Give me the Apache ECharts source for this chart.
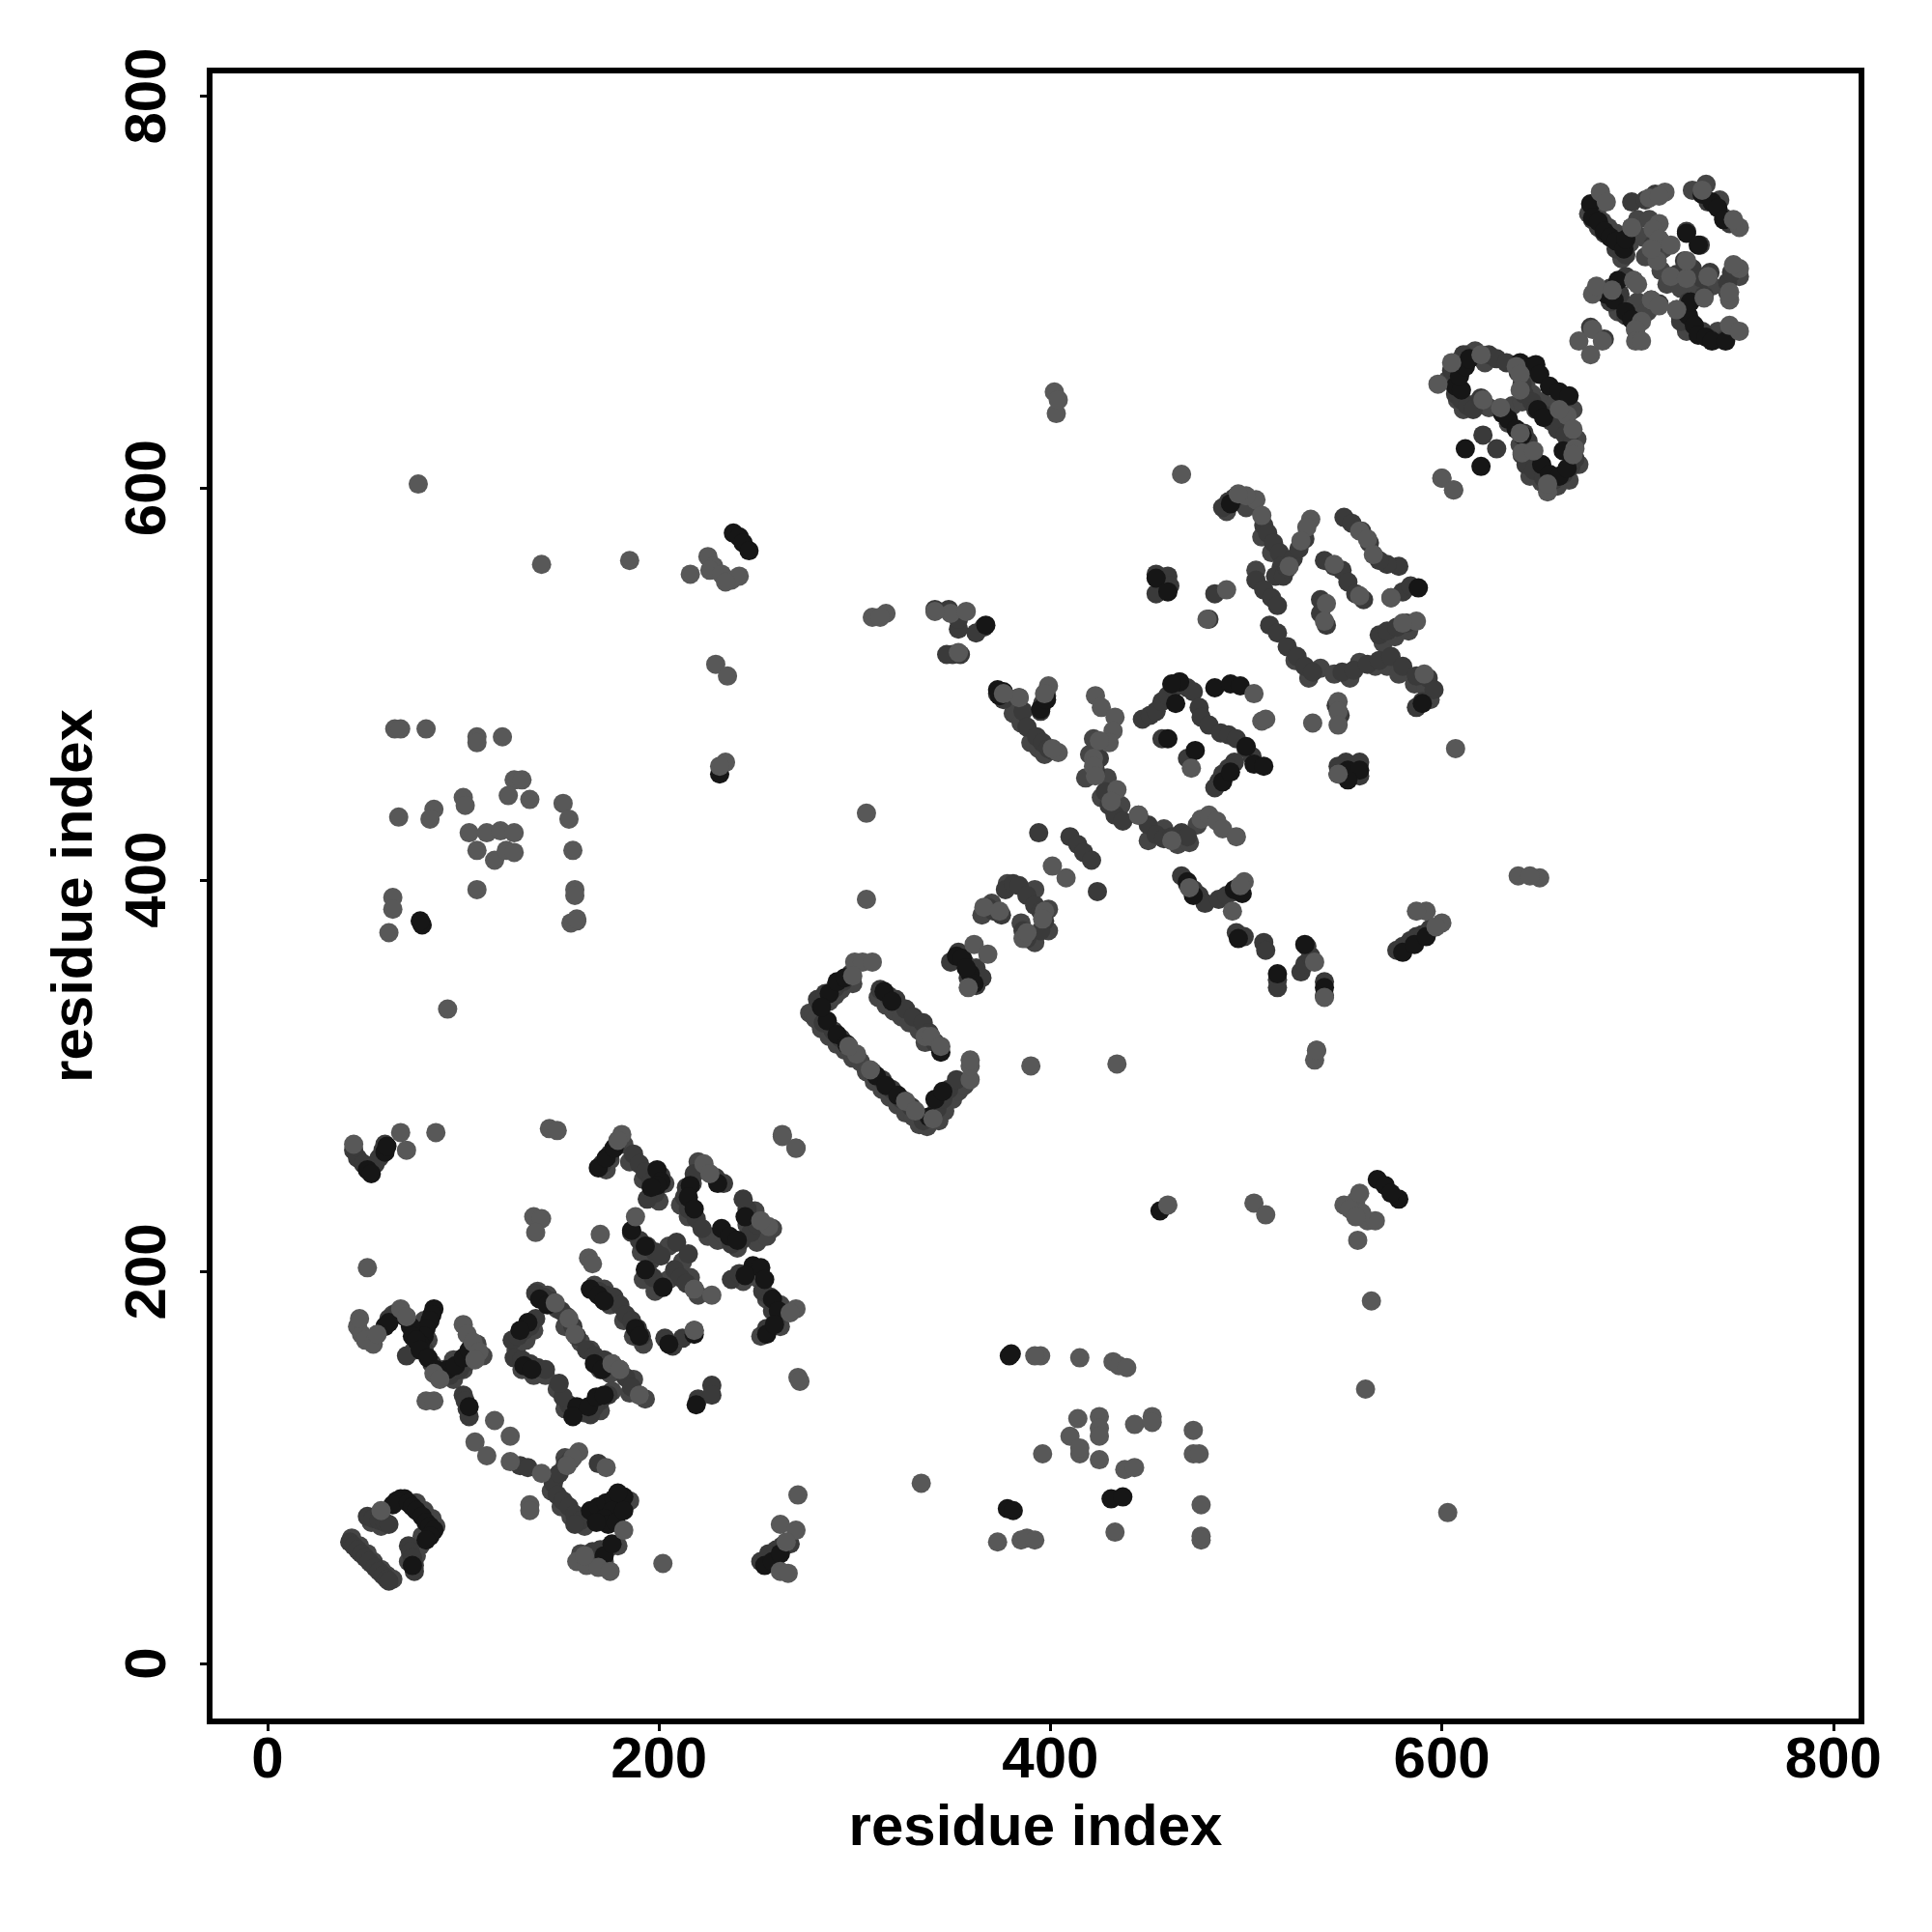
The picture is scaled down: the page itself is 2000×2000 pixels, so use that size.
<!DOCTYPE html>
<html><head><meta charset="utf-8">
<style>html,body{margin:0;padding:0;background:#fff}#c{width:2000px;height:2000px}</style>
<script src="https://cdn.jsdelivr.net/npm/echarts@6/dist/echarts.min.js"></script>
</head><body><div id="c"></div>
<script>
const tickValues=[0,200,400,600,800];
const axisTitle="residue index";
const backPoints=[[43,64],[47,60],[51,56],[54,52],[58,48],[61,45],[64,43],[47,57],[53,51],[53,72],[58,70],[72,52],[76,55],[78,60],[79,65],[86,70],[84,74],[80,78],[76,82],
[277,332],[279,331],[281,335],[284,338],[287,338],[290,341],[293,344],[296,347],[299,347],[280,329],[283,324],[287,320],[291,316],[295,313],[299,309],[303,307],[306,302],[310,297],[314,293],[318,289],[322,285],[326,281],[330,279],[333,275],[337,274],[343,277],[346,282],[350,288],[353,292],[356,295],[312,340],[316,336],[320,333],[324,330],[328,327],[333,323],[336,317],
[64,178],[80,175],[76,172],[82,165],[75,160],[90,150],[95,145],[100,150],[104,157],[107,163],[110,157],[106,160],[95,155],
[127,160],[132,165],[136,170],[130,150],[136,147],[142,147],[138,190],[143,188],[148,181],[152,172],[160,164],[165,160],[170,150],[175,148],[185,138],[187,145],[193,135],[162,128],[170,129],[176,139],[152,130],[148,140],[167,193],[172,191],[175,183],[182,175],[187,167],[192,163],
[173,252],[182,265],[175,257],[185,256],[192,247],[200,236],[203,245],[220,256],[217,245],[211,234],[215,228],[225,218],[230,216],[233,219],[240,212],[250,215],[245,224],[255,218],[258,222],[249,231],[191,210],[196,206],[205,213],[212,205],[216,197],[220,188],[192,196],[198,190],[205,196],[243,195],[250,197],[255,186],[262,183],[262,172],[252,167],
[152,105],[147,95],[145,88],[150,80],[155,75],[162,70],[165,76],[170,76],[178,75],[180,81],[185,83],[165,52],[172,52],[179,60],[160,56],
[603,655],[607,662],[609,665],[613,668],[617,670],[622,664],[608,645],[611,640],[617,643],[624,641],[634,633],[643,654],[646,648],[651,644],[654,640],[658,643],[662,646],[667,640],[669,625],[670,612],[665,604],[659,601],[651,603],[645,606],[640,622],[636,642],[641,644],
[675,740],[679,741],[682,736],[685,733],[689,730],[693,728],[696,725],[692,717],[700,737],[706,737],[703,728],[713,722],[704,718],[712,711],[715,704],[722,702],[729,704],[738,703],[746,700],[752,708],[742,747],[735,755],[728,752],[722,687],[730,680],[725,680],[741,680],[693,694],[690,690],[697,690],[700,695],[705,690],
[490,588],[500,590],[508,575],[513,567],[505,558],[525,512],[532,503],[538,508],[545,505],[553,503],[558,511],[566,509],[572,509],[578,505],[586,500],[592,498],[594,492],[570,521],[576,524],[583,527],
[418,452],[420,464],[422,472],[429,452],[426,442],[436,438],[458,426],[465,418],[475,428],[471,419],[450,420],[365,382],[370,388],[378,398],[392,395],[399,385],[399,374],[392,368],[385,378],[380,492],[381,485],[385,480],[390,470],[394,467],[397,464]];
const midPoints=[[42,62],[44,60],[46,58],[48,56],[50,54],[52,52],[55,49],[57,47],[59,45],[61,43],[62,42],[51,75],[54,74],[57,73],[60,72],[62,71],[72,60],[73,57],[74,54],[75,50],[75,47],[44,262],[46,258],[49,255],[55,255],[57,258],[59,262],[60,265],
[62,176],[66,179],[71,157],[75,170],[80,160],[84,153],[88,147],[93,147],[98,150],[102,154],[100,137],[101,134],[102,130],[103,126],[146,92],[149,97],[152,101],[155,104],[148,86],[151,83],[154,80],[157,76],[160,73],[157,71],[169,102],[166,57],[170,58],[174,59],[252,52],[256,56],[260,58],[263,60],[267,61],[129,101],[133,100],
[125,165],[128,167],[131,170],[134,172],[137,176],[126,156],[130,155],[134,153],[138,151],[142,150],[137,189],[141,187],[145,185],[150,180],[153,177],[156,172],[158,167],[163,160],[167,157],[172,155],[176,153],[180,150],[183,146],[186,141],[190,137],[174,137],[170,134],[167,131],[165,127],[158,128],[154,132],[151,136],[149,143],[165,191],[169,190],[173,188],[177,187],[180,183],[183,178],[186,175],[189,171],[191,167],[203,166],[207,162],[212,166],[218,170],[220,135],[227,142],[227,137],
[171,255],[175,260],[178,264],[187,260],[190,255],[193,251],[196,246],[198,240],[201,249],[194,237],[218,250],[214,243],[213,238],[215,232],[219,227],[222,222],[229,248],[233,245],[237,214],[242,216],[247,220],[250,224],[245,232],[243,237],[186,220],[190,216],[194,213],[198,210],[201,208],[209,215],[215,209],[194,201],[197,197],[202,192],[208,201],[211,197],[214,194],[218,191],[237,196],[241,199],[253,190],[257,187],[258,180],[255,171],[260,176],
[284,327],[289,323],[293,319],[281,339],[285,342],[290,345],[294,348],[298,352],[309,302],[314,298],[319,293],[324,288],[329,284],[335,277],[342,283],[345,288],[348,293],[352,298],[313,344],[317,341],[321,339],[326,334],[330,330],[335,327],[338,322],[341,317],[349,358],[353,363],[356,358],[358,350],[362,355],[365,350],[362,346],[368,386],[371,384],[375,382],[377,395],[381,398],[384,397],[388,392],[392,387],[395,384],[397,379],[395,374],[386,374],[388,370],[394,424],[410,422],[414,418],[417,414],[421,410],[424,394],
[423,456],[425,462],[428,445],[430,438],[433,433],[437,430],[445,433],[450,428],[454,423],[458,421],[462,422],[467,424],[470,422],[447,482],[451,484],[454,486],[457,491],[460,494],[463,498],[466,501],[470,498],[473,496],[476,488],[477,483],[481,479],[487,475],[491,474],[495,472],[500,467],[503,463],[494,460],[491,457],[488,454],[486,450],[484,447],[457,472],[470,462],[374,496],[376,492],[384,493],[386,486],[388,478],[393,473],[396,470],[399,467],[401,466],[398,494],[396,490],[395,486],[467,402],[470,398],[473,395],[476,392],[479,388],[486,390],[490,392],[494,394],[496,396],[495,373],[499,371],[509,368],[510,364],[531,366],[528,353],[530,357],[533,361],[516,349],[516,345],[540,348],[540,341],[551,460],[547,458],[558,460],[558,453],[577,364],[580,366],[584,369],[587,371],[590,372],[594,375],
[488,590],[491,593],[494,595],[509,581],[511,577],[514,572],[517,567],[518,560],[515,555],[505,553],[509,548],[513,544],[516,540],[519,555],[521,559],[524,564],[527,569],[530,574],[512,530],[516,526],[521,519],[526,514],[530,509],[534,506],[550,585],[554,582],[559,578],[563,572],[540,563],[545,560],[549,558],[552,552],[556,546],[560,543],[538,543],[538,536],[541,530],[549,506],[555,507],[562,510],[568,512],[574,514],[580,509],[587,504],[593,503],[596,497],[590,491],[587,488],[568,525],[572,527],[577,529],[582,531],[574,544],[580,547],[584,550],[578,560],[572,561],[568,563],[548,484],[546,489],
[341,538],[348,538],[353,528],[350,515],[354,515],[347,515],[366,529],[362,526],[373,495],[454,556],[460,555],[454,546],[461,550],[481,533],[484,546],[353,533],
[605,660],[608,656],[611,668],[607,648],[610,645],[613,642],[616,640],[620,646],[624,668],[628,666],[633,664],[639,659],[641,653],[642,648],[646,644],[648,640],[653,637],[656,634],[659,630],[663,627],[666,622],[642,628],[644,624],[641,617],[643,612],[647,609],[652,605],[657,604],[662,607],[666,611],[668,615],[621,627],[628,620],
[677,737],[680,733],[683,730],[689,722],[694,719],[697,733],[697,746],[704,747],[709,750],[733,750],[736,746],[744,738],[747,735],[708,724],[711,727],[725,731],[732,724],[720,709],[724,716],[728,712],[733,707],[737,710],[746,705],[748,710],[686,702],[686,695],[691,699],[694,708],[698,706],[694,688],[699,681],[707,696],[711,694],[720,691],[725,690],[722,685],[728,684],[733,680],[737,676],[745,676],[676,682],[683,676],[726,695],[734,698]];
const darkPoints=[[68,84],[70,84],[66,83],[64,81],[72,82],[74,80],[76,78],[79,75],[81,72],[83,70],[85,68],[83,65],[81,63],[74,50],[51,252],[53,250],[60,261],[61,264],
[85,181],[84,178],[83,175],[81,171],[80,167],[78,163],[70,177],[73,172],[74,167],[76,165],[78,160],[82,156],[86,150],[60,172],[62,174],[92,150],[96,152],[100,156],[103,160],[103,131],[165,78],[169,80],[173,82],[177,84],[182,85],[179,87],[176,78],[172,74],[174,71],[178,72],[182,78],[168,72],[172,55],[176,61],[254,50],[258,52],[262,56],
[133,174],[129,170],[131,152],[135,150],[139,186],[143,183],[167,153],[171,150],[158,131],[156,126],[164,131],[168,136],[172,137],[165,191],[169,188],[172,185],[188,171],[190,167],[205,163],[218,168],[219,132],
[169,253],[173,258],[177,263],[199,252],[201,246],[199,244],[196,243],[216,244],[215,238],[218,232],[230,245],[232,222],[236,218],[240,216],[244,228],[186,221],[193,213],[202,192],[193,201],[248,203],[252,202],[244,198],[254,196],[258,186],[261,180],[255,168],[259,173],
[286,328],[291,321],[296,316],[287,342],[291,348],[295,350],[283,335],[311,300],[316,295],[322,290],[338,279],[341,288],[345,292],[315,343],[319,338],[344,312],[352,361],[355,360],[359,352],[361,347],[357,355],
[470,399],[473,392],[494,395],[498,393],[496,370],[530,367],[516,352],[540,345],[547,454],[552,456],[558,456],[552,451],[580,363],[586,367],[592,371],[484,498],[492,500],[497,499],[500,468],[504,459],[509,458],[488,450],[492,455],[460,472],[373,497],[376,496],[466,501],[464,490],[474,466],[462,500],[492,592],[588,549],[590,490],[454,554],[460,547],[367,530],[374,494],[395,487],[398,492],
[238,577],[241,575],[243,572],[246,568],[231,454],[79,377],[78,379],[380,158],[379,157],[378,79],[381,78],[431,84],[437,85],[456,231],[567,247],[571,244],[578,237],[574,240],
[607,652],[610,650],[609,657],[612,662],[614,666],[640,664],[645,662],[648,663],[650,658],[655,652],[660,649],[665,647],[631,638],[634,635],[638,630],[641,627],[612,620],[620,611],[651,612],[655,607],[660,606],[664,610],[649,640],[652,636],[662,619],
[676,745],[677,738],[680,736],[683,731],[686,728],[689,726],[693,722],[694,727],[733,750],[738,746],[741,743],[744,737],[725,730],[731,724],[684,699],[688,696],[694,690],[697,686],[726,688],[729,683],[731,678],[735,677],[738,675],[745,675],[727,695],[690,706]];
const lightPoints=[[58,78],[46,172],[48,168],[50,165],[54,163],[56,168],[47,176],[68,181],[71,177],[100,173],[102,168],[105,164],[108,159],[106,155],[85,148],[88,145],[81,134],[85,134],[116,124],[124,116],[106,113],[112,106],[124,103],[140,97],[159,108],[156,105],[153,101],[173,100],[158,52],[163,50],[169,49],[175,47],[162,55],[182,68],[134,81],[134,78],[202,51],[262,47],[266,46],[262,71],[270,68],[271,86],[265,62],
[44,265],[68,271],[71,262],[86,271],[51,202],[144,273],[148,272],[263,270],[270,263],[271,146],[272,144],[136,228],[140,227],[137,220],[170,219],[164,207],[166,204],[181,270],[179,267],[188,228],[223,255],[226,250],[256,223],[252,226],[218,191],[227,188],[218,170],[270,181],[267,179],[147,184],[154,176],[157,168],[176,153],[180,150],[190,137],
[300,358],[304,358],[309,358],[359,298],[359,305],[359,308],[299,351],[301,311],[297,315],[308,303],[326,287],[331,282],[340,278],[336,320],[339,320],[344,315],[263,269],[270,263],[306,434],[306,390],[361,367],[368,362],[358,345],[401,407],[408,401],[386,370],[388,373],[397,384],[396,380],[366,386],[374,384],
[423,494],[426,488],[433,483],[432,476],[430,470],[425,471],[422,462],[422,458],[423,453],[434,446],[431,440],[445,433],[477,431],[481,433],[485,430],[488,426],[495,422],[462,420],[399,499],[397,495],[404,465],[384,493],[472,457],[508,481],[510,482],[504,495],[534,480],[547,491],[547,486],[471,396],[493,384],[535,358],[540,340],[499,399],[497,397],[536,313],[535,308],[390,305],[434,306],[592,384],[587,384],[600,378],[597,376],
[639,402],[650,401],[645,402],[467,607],[402,649],[403,638],[404,645],[600,605],[606,599],[607,467],[309,534],[316,536],[313,534],[480,533],[490,548],[349,536],[357,537],[341,537],[353,516],[376,495],[401,467],[505,594],[500,596],[496,597],[508,586],[533,584],[531,580],[528,573],[522,560],[545,561],[541,541],[540,532],[558,578],[562,574],[558,545],[587,532],[580,531],[591,505],[574,544],[565,566],[547,454],[547,479],
[598,653],[605,664],[620,668],[638,662],[640,658],[640,650],[664,637],[660,640],[667,630],[668,620],[667,617],[654,598],[654,602],[641,618],[647,619],[600,605],[606,599],[630,641],[640,628],[621,645],[681,751],[684,746],[706,748],[714,751],[711,749],[733,752],[752,733],[749,737],[697,733],[711,735],[708,732],[711,727],[717,724],[710,716],[707,722],[717,708],[725,707],[725,716],[736,708],[752,712],[749,714],[747,696],[747,700],[677,699],[679,703],[687,701],[698,706],[700,704],[702,685],[699,681],[699,675],[702,675],[707,696],[711,693],[720,691],[734,697],[747,683],[752,680],[670,675],[676,668],[677,681],[682,675],
[65,477],[68,477],[81,477],[107,473],[107,470],[120,473],[126,451],[130,451],[123,443],[100,442],[101,438],[67,432],[103,424],[112,424],[119,425],[126,424],[107,415],[116,410],[122,415],[126,414],[107,395],[64,391],[64,385],[62,373],[92,334],[134,441],[151,439],[154,431],[156,415],[157,395],[157,392],[158,379],[155,378],[85,436],[83,431],[229,510],[235,504],[234,460],[231,458],[216,556],[225,565],[228,560],[226,558],[232,556],[237,553],[241,555],[234,552],[140,561],[185,563],[77,602],
[158,380],[395,157],[392,157],[415,156],[432,154],[435,152],[439,151],[410,116],[414,125],[425,126],[425,120],[425,116],[415,107],[415,110],[425,104],[443,122],[452,126],[452,123],[473,119],[473,107],[476,107],[438,99],[443,100],[396,107],[477,81],[433,67],[477,65],[477,63],[373,62],[385,63],[388,64],[392,63],[334,92],[603,77],[561,140],[564,185],[557,216],[562,226],[566,226],[556,236],[550,234],[559,230],[553,232],[558,240],[556,228],[460,234],[504,235],[510,229],[536,313]];
const chart=echarts.init(document.getElementById('c'),null,{renderer:'canvas'});
const labelFont={fontFamily:'Liberation Sans',fontWeight:'bold',fontSize:60,color:'#000'};
const titleFont={fontFamily:'Liberation Sans',fontWeight:'bold',fontSize:60,color:'#000'};
function axis(extra){return Object.assign({type:'value',name:axisTitle,nameLocation:'middle',nameTextStyle:titleFont,
 axisLine:{show:false,onZero:false},splitLine:{show:false},
 axisTick:{show:true,customValues:tickValues,length:10,lineStyle:{color:'#000',width:3}}},extra);}
function marks(data,color){return {type:'scatter',data,symbol:'circle',symbolSize:20,itemStyle:{color,opacity:1},silent:true,animation:false};}
chart.setOption({animation:false,backgroundColor:'#fff',
 grid:{show:true,left:217,right:73,top:73,bottom:218,borderColor:'#000',borderWidth:6,backgroundColor:'#fff',containLabel:false},
 xAxis:axis({min:-29.6,max:814.4,nameGap:81,axisLabel:Object.assign({},labelFont,{customValues:tickValues,margin:11,showMinLabel:true,showMaxLabel:true})}),
 yAxis:axis({min:-29.6,max:813.1,nameGap:109,nameRotate:90,axisLabel:Object.assign({},labelFont,{customValues:tickValues,rotate:90,margin:33,align:'center',verticalAlign:'bottom'})}),
 series:[marks(backPoints,'#454545'),marks(midPoints,'#3a3a3a'),marks(darkPoints,'#161616'),marks(lightPoints,'#585858')]
});
</script></body></html>
